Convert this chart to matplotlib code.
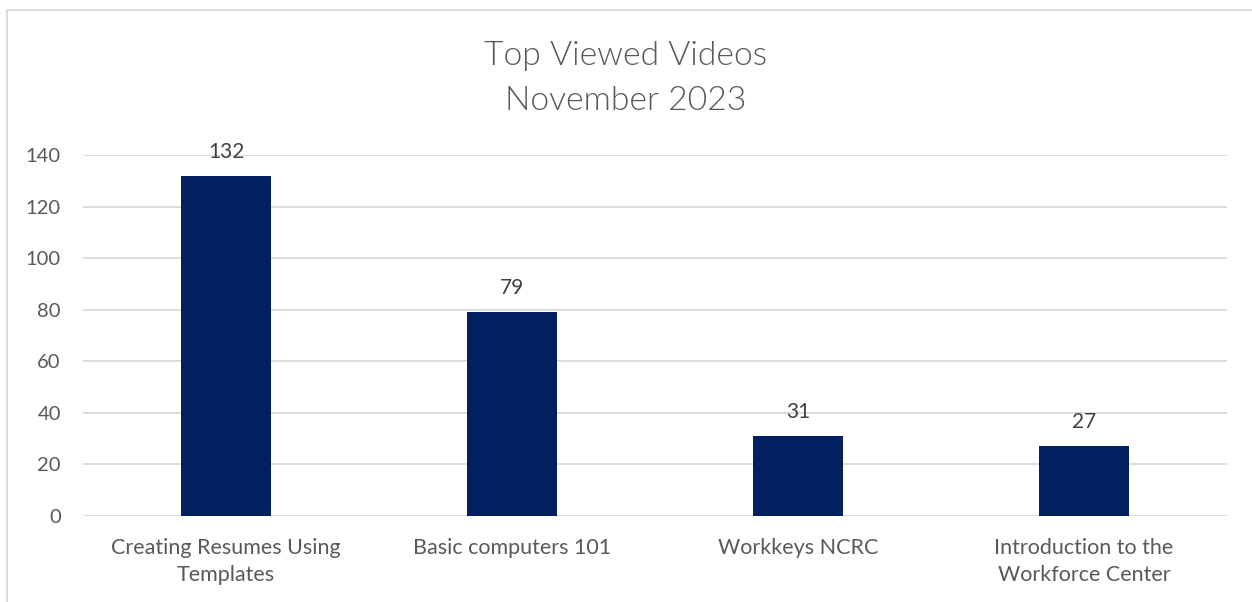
import matplotlib.pyplot as plt
from matplotlib.lines import Line2D
import numpy as np

videos = ["Creating Resumes Using\nTemplates", "Basic computers 101",
          "Workkeys NCRC", "Introduction to the\nWorkforce Center"]
views = [132, 79, 31, 27]
yticks = [0, 20, 40, 60, 80, 100, 120, 140]

navy = "#002060"
grey_text = "#595959"
grid_col = "#d9d9d9"

plt.rcParams['font.family'] = ['Lato', 'DejaVu Sans']

W, H = 1252, 602
fig = plt.figure(figsize=(W / 100, H / 100), dpi=100)
ax = fig.add_axes([83 / W, 1 - 516 / H, (1227 - 83) / W, (516 - 155) / H])

x = np.arange(len(videos))
ax.bar(x, views, width=0.315, color=navy, zorder=3)
for xi, v in zip(x, views):
    ax.annotate(str(v), (xi, v), xytext=(0, 10), textcoords="offset points",
                ha="center", va="bottom", fontsize=15, color="#404040")

ax.set_xlim(-0.5, len(videos) - 0.5)
ax.set_ylim(0, 140)
ax.set_yticks(yticks)
ax.set_xticks(x)
ax.set_xticklabels(videos, fontsize=15.5, color=grey_text, linespacing=1.45)
ax.tick_params(axis="y", labelsize=14.5, labelcolor=grey_text, length=0, pad=16)
ax.tick_params(axis="x", length=0, pad=16)
ax.grid(axis="y", color=grid_col, linewidth=1.3, zorder=0)
for s in ax.spines.values():
    s.set_visible(False)

fig.text(0.5, 1 - 56 / H, "Top Viewed Videos", ha="center", va="center",
         fontsize=24.3, color=grey_text, fontweight=300)
fig.text(0.5, 1 - 101 / H, "November 2023", ha="center", va="center",
         fontsize=24.3, color=grey_text, fontweight=300)

# chart frame (only top and left edges fall inside the image)
fig.add_artist(Line2D([7 / W, 7 / W, 1], [0, 1 - 10 / H, 1 - 10 / H],
                      transform=fig.transFigure, color="#d9d9d9", linewidth=1.3))

fig.savefig("out.png", dpi=100)
